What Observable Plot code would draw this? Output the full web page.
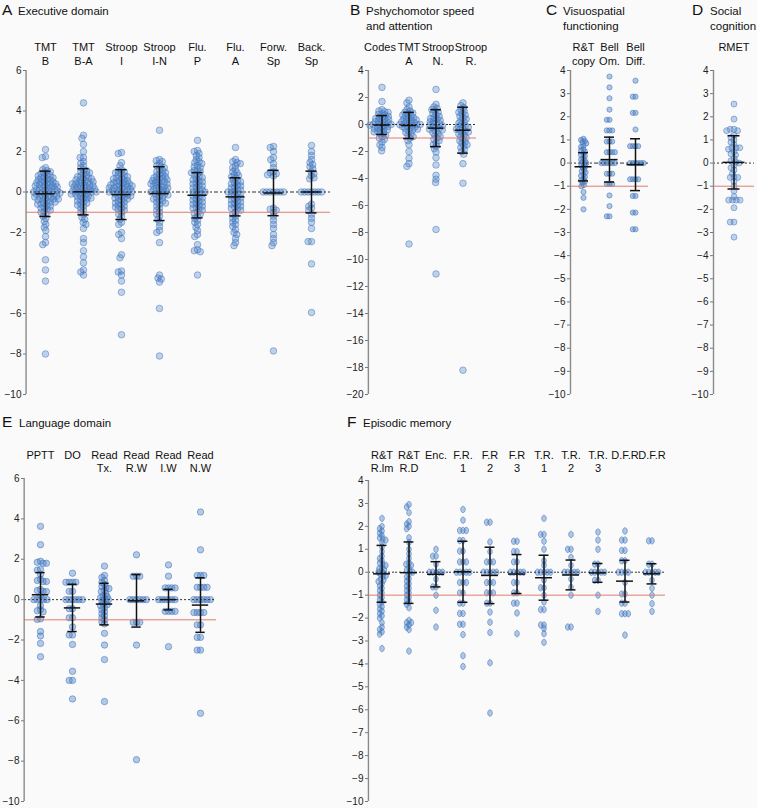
<!DOCTYPE html>
<html><head><meta charset="utf-8">
<script src="https://cdn.jsdelivr.net/npm/d3@7"></script>
<script src="https://cdn.jsdelivr.net/npm/@observablehq/plot@0.6"></script>
<style>
body{margin:0;background:#fafafa;font-family:"Liberation Sans",Arial,Helvetica,sans-serif;}
#root{position:relative;width:757px;height:808px;overflow:hidden;background:#fafafa;}
#root > svg{position:absolute;overflow:visible;}
</style></head>
<body><div id="root"></div>
<script>
// ---------- A: Executive domain ----------
const execCats = ["tmtB","tmtBA","stroopI","stroopIN","fluP","fluA","forwSp","backSp"];
const execLabels = ["TMT\nB","TMT\nB-A","Stroop\nI","Stroop\nI-N","Flu.\nP","Flu.\nA","Forw.\nSp","Back.\nSp"];
const execMeans = [-0.09, 0.01, -0.13, -0.08, -0.16, -0.24, -0.05, 0.0];
const execSDs = [1.12, 1.14, 1.23, 1.33, 1.12, 0.94, 1.12, 1.03];
const tmtB = [2.1,1.75,1.7,1.2,1.1,1.05,1.0,0.95,0.9,0.85,0.8,0.8,0.75,0.7,0.7,0.65,0.6,0.6,0.55,0.5,0.5,0.45,0.45,0.4,0.4,0.35,0.35,0.3,0.3,0.25,0.25,0.2,0.2,0.15,0.15,0.1,0.1,0.05,0.05,0,0,0,-0.05,-0.05,-0.1,-0.1,-0.15,-0.15,-0.2,-0.2,-0.25,-0.25,-0.3,-0.3,-0.35,-0.35,-0.4,-0.4,-0.45,-0.5,-0.5,-0.55,-0.6,-0.6,-0.65,-0.7,-0.75,-0.8,-0.85,-0.9,-0.95,-1.0,-1.1,-1.2,-1.3,-1.45,-1.6,-1.75,-1.9,-2.2,-2.5,-2.6,-3.35,-3.85,-4.4,-8.0];
const tmtBA = [4.4,2.8,2.65,2.35,2.0,1.7,1.7,1.5,1.4,1.3,1.2,1.1,1.05,1.0,0.95,0.9,0.85,0.8,0.75,0.7,0.7,0.65,0.6,0.6,0.55,0.5,0.5,0.45,0.45,0.4,0.4,0.35,0.35,0.3,0.3,0.25,0.25,0.2,0.2,0.15,0.15,0.1,0.1,0.05,0.05,0,0,0,-0.05,-0.05,-0.1,-0.1,-0.15,-0.2,-0.2,-0.25,-0.3,-0.3,-0.35,-0.4,-0.45,-0.5,-0.55,-0.6,-0.65,-0.7,-0.8,-0.9,-1.0,-1.1,-1.25,-1.35,-1.5,-1.6,-1.8,-2.3,-2.5,-2.9,-3.2,-3.5,-3.85,-3.95,-4.1];
const stroopI = [1.95,1.9,1.45,1.3,1.1,1.05,1.0,0.95,0.9,0.85,0.8,0.75,0.7,0.7,0.65,0.6,0.55,0.55,0.5,0.45,0.45,0.4,0.4,0.35,0.35,0.3,0.3,0.25,0.25,0.2,0.2,0.15,0.15,0.1,0.1,0.05,0.05,0,0,0,-0.05,-0.1,-0.1,-0.15,-0.2,-0.2,-0.25,-0.3,-0.3,-0.35,-0.4,-0.45,-0.5,-0.55,-0.6,-0.65,-0.7,-0.75,-0.8,-0.85,-0.9,-1.0,-1.1,-1.2,-1.35,-1.5,-1.6,-2.0,-2.1,-2.3,-3.1,-3.25,-3.9,-3.95,-4.1,-4.4,-4.95,-7.05];
const stroopIN = [3.05,1.6,1.55,1.5,1.4,1.3,1.25,1.2,1.1,1.05,1.0,0.95,0.9,0.85,0.8,0.75,0.7,0.7,0.65,0.6,0.6,0.55,0.5,0.5,0.45,0.4,0.4,0.35,0.3,0.3,0.25,0.2,0.2,0.15,0.1,0.1,0.05,0,0,-0.05,-0.1,-0.1,-0.15,-0.2,-0.25,-0.3,-0.35,-0.4,-0.45,-0.5,-0.55,-0.6,-0.7,-0.8,-0.9,-1.0,-1.1,-1.2,-1.35,-1.5,-1.7,-1.9,-2.0,-2.5,-4.1,-4.25,-4.3,-4.45,-5.75,-8.1];
const fluP = [2.55,2.05,2.0,1.9,1.8,1.7,1.6,1.5,1.45,1.4,1.3,1.25,1.2,1.1,1.05,1.0,0.95,0.9,0.8,0.75,0.7,0.65,0.6,0.55,0.5,0.45,0.4,0.35,0.3,0.25,0.2,0.15,0.1,0.05,0,0,-0.05,-0.1,-0.15,-0.2,-0.25,-0.3,-0.35,-0.4,-0.45,-0.5,-0.55,-0.6,-0.65,-0.7,-0.75,-0.8,-0.85,-0.9,-1.0,-1.05,-1.1,-1.2,-1.3,-1.4,-1.5,-1.6,-1.75,-1.9,-2.1,-2.2,-2.6,-2.85,-2.9,-2.95,-4.1];
const fluA = [2.2,1.6,1.5,1.45,1.4,1.3,1.2,1.1,1.0,0.95,0.85,0.8,0.75,0.7,0.6,0.55,0.5,0.45,0.4,0.35,0.3,0.25,0.2,0.15,0.1,0.05,0,0,-0.05,-0.1,-0.15,-0.2,-0.25,-0.3,-0.35,-0.4,-0.45,-0.5,-0.55,-0.6,-0.65,-0.7,-0.75,-0.8,-0.85,-0.9,-1.0,-1.1,-1.2,-1.3,-1.4,-1.5,-1.6,-1.7,-1.85,-2.0,-2.1,-2.3,-2.5,-2.65];
const forwSp = [2.25,2.2,2.0,1.7,1.6,1.4,1.2,1.0,0.95,0.9,0.85,0.8,0,0,0,0,0,0,0,-0.8,-0.85,-0.9,-1.0,-1.2,-1.4,-1.6,-1.8,-2.1,-2.3,-2.5,-2.65,-7.85];
const backSp = [2.3,2.0,1.8,1.6,1.45,1.35,1.25,1.15,1.0,0.9,0.8,0.7,0.65,0,0,0,0,0,0,0,-0.6,-0.7,-0.8,-0.9,-1.1,-1.3,-1.5,-1.8,-2.45,-2.45,-3.55,-5.95];
const execValues = [tmtB, tmtBA, stroopI, stroopIN, fluP, fluA, forwSp, backSp];
const execTicks = [6,4,2,0,-2,-4,-6,-8,-10];

// ---------- B: Pshychomotor speed and attention ----------
const psyCats = ["codes","tmtA","stroopN","stroopR"];
const psyLabels = ["Codes","TMT\nA","Stroop\nN.","Stroop\nR."];
const psyMeans = [-0.04, -0.07, -0.27, -0.42];
const psySDs = [0.70, 0.97, 1.37, 1.70];
const codes = [2.75,1.7,1.1,1.0,0.95,0.9,0.8,0.75,0.7,0.6,0.55,0.5,0.45,0.4,0.35,0.3,0.25,0.2,0.15,0.1,0.05,0,0,0,-0.05,-0.1,-0.15,-0.2,-0.25,-0.3,-0.35,-0.4,-0.45,-0.5,-0.55,-0.6,-0.7,-0.8,-0.9,-1.0,-1.1,-1.3,-1.5,-1.7,-1.95];
const tmtA = [1.8,1.6,1.3,1.1,1.0,0.9,0.85,0.8,0.7,0.65,0.6,0.5,0.45,0.4,0.35,0.3,0.25,0.2,0.15,0.1,0.05,0,0,0,-0.05,-0.1,-0.15,-0.2,-0.25,-0.3,-0.35,-0.4,-0.5,-0.6,-0.7,-0.8,-0.9,-1.0,-1.2,-1.5,-2.0,-2.5,-2.9,-3.1,-8.85];
const stroopN = [2.6,1.5,1.3,1.2,1.1,1.0,0.9,0.8,0.7,0.6,0.5,0.45,0.4,0.3,0.25,0.2,0.1,0.05,0,-0.05,-0.1,-0.2,-0.25,-0.3,-0.35,-0.4,-0.5,-0.6,-0.7,-0.8,-0.9,-1.0,-1.1,-1.2,-1.35,-1.5,-1.6,-1.8,-2.04,-2.46,-3.0,-3.76,-4.05,-4.3,-7.78,-11.07];
const stroopR = [1.6,1.4,1.25,1.1,1.0,0.9,0.8,0.7,0.6,0.5,0.4,0.3,0.2,0.1,0,-0.1,-0.15,-0.2,-0.3,-0.35,-0.4,-0.5,-0.55,-0.6,-0.7,-0.8,-0.9,-1.0,-1.1,-1.2,-1.3,-1.4,-1.5,-1.6,-1.7,-1.85,-2.0,-2.2,-2.9,-4.35,-18.2];
const psyValues = [codes, tmtA, stroopN, stroopR];
const psyTicks = [4,2,0,-2,-4,-6,-8,-10,-12,-14,-16,-18,-20];

// ---------- C: Visuospatial functioning ----------
const visCats = ["rtCopy","bellOm","bellDiff"];
const visLabels = ["R&T\ncopy","Bell\nOm.","Bell\nDiff."];
const visMeans = [-0.16, 0.15, -0.07];
const visSDs = [0.61, 0.97, 1.12];
const rtCopy = [1.05,1.0,0.95,0.9,0.85,0.75,0.7,0.6,0.55,0.5,0.4,0.35,0.3,0.2,0.15,0.1,0.05,0,-0.05,-0.1,-0.15,-0.2,-0.3,-0.35,-0.4,-0.5,-0.55,-0.6,-0.7,-0.75,-0.8,-0.85,-0.95,-1.0,-1.25,-1.5,-2.0];
const bellOm = [3.74,3.27,2.8,2.31,1.87,1.87,1.41,1.41,1.41,0.93,0.93,0.93,0.47,0.47,0.47,0.47,0,0,0,0,0,0,-0.46,-0.46,-0.46,-0.9,-0.9,-0.9,-1.4,-1.86,-2.3,-2.3];
const bellDiff = [3.56,2.87,2.87,2.17,2.17,1.45,0.73,0.73,0.73,0.73,0,0,0,0,0,0,-0.7,-0.7,-0.7,-0.7,-1.42,-1.42,-2.14,-2.14,-2.86,-2.86];
const visValues = [rtCopy, bellOm, bellDiff];
const smallTicks = [4,3,2,1,0,-1,-2,-3,-4,-5,-6,-7,-8,-9,-10];

// ---------- D: Social cognition ----------
const socCats = ["rmet"];
const socLabels = ["RMET"];
const socMeans = [0.03];
const socSDs = [1.15];
const rmet = [2.55,1.9,1.46,1.46,1.4,1.4,1.2,1.1,1.0,0.9,0.8,0.66,0.66,0.66,0.6,0.5,0.4,0.35,0.2,0.1,0.05,0,-0.1,-0.2,-0.3,-0.45,-0.6,-0.62,-0.62,-0.8,-1.0,-1.2,-1.45,-1.6,-1.6,-1.6,-1.6,-1.93,-2.55,-2.55,-3.2];
const socValues = [rmet];

// ---------- E: Language domain ----------
const langCats = ["pptt","do","readTx","readRW","readIW","readNW"];
const langLabels = ["PPTT","DO","Read\nTx.","Read\nR.W","Read\nI.W","Read\nN.W"];
const langMeans = [0.24, -0.41, -0.22, -0.06, 0.0, -0.27];
const langSDs = [1.10, 1.17, 1.03, 1.30, 0.51, 1.35];
const pptt = [3.63,2.72,1.9,1.85,1.8,1.8,1.5,1.46,1.25,1.0,0.95,0.9,0.9,0.5,0.45,0.4,0.4,0.2,0,0,0,0,0,-0.3,-0.5,-0.55,-0.6,-0.95,-0.98,-1.58,-1.8,-2.17,-2.83];
const dO = [1.31,0.86,0.86,0.86,0.86,0.41,0.41,0,0,0,0,0,0,-0.45,-0.45,-0.9,-0.9,-1.35,-1.75,-1.75,-2.22,-3.55,-4.0,-4.0,-4.92];
const readTx = [1.66,1.2,1.1,0.95,0.85,0.75,0.65,0.6,0.55,0.45,0.4,0.3,0.2,0.15,0.1,0.05,0,-0.05,-0.1,-0.2,-0.25,-0.3,-0.4,-0.5,-0.6,-0.7,-0.8,-0.9,-1.0,-1.1,-1.2,-1.67,-2.25,-2.97,-5.05];
const readRW = [2.22,1.16,1.16,1.16,0,0,0,0,0,0,-1.12,-1.12,-1.12,-2.25,-7.93];
const readIW = [1.72,1.16,0.58,0.58,0.58,0.58,0,0,0,0,0,0,-0.58,-0.58,-0.58,-0.58,-2.33];
const readNW = [4.34,2.47,1.2,1.2,1.2,0.61,0.61,0.61,0.61,0,0,0,0,0,0,-0.64,-0.64,-0.64,-0.64,-1.25,-1.25,-1.87,-1.87,-2.5,-2.5,-5.63];
const langValues = [pptt, dO, readTx, readRW, readIW, readNW];

// ---------- F: Episodic memory ----------
const epiCats = ["rtRIm","rtRD","enc","fr1","fr2","fr3","tr1","tr2","tr3","dfr1","dfr2"];
const epiLabels = ["R&T\nR.lm","R&T\nR.D","Enc.","F.R.\n1","F.R\n2","F.R\n3","T.R.\n1","T.R.\n2","T.R.\n3","D.F.R","D.F.R"];
const epiMeans = [-0.07, -0.02, -0.09, 0.02, -0.14, -0.08, -0.24, -0.12, -0.03, -0.39, -0.07];
const epiSDs = [1.24, 1.34, 0.55, 1.33, 1.23, 0.85, 0.98, 0.65, 0.41, 0.91, 0.44];
const rtRIm = [2.35,2.0,1.9,1.8,1.7,1.6,1.5,1.45,1.4,1.3,1.1,0.9,0.7,0.6,0.5,0.4,0.35,0.3,0.2,0.15,0.1,0.05,0,-0.05,-0.1,-0.15,-0.2,-0.3,-0.35,-0.4,-0.5,-0.6,-0.7,-0.8,-0.9,-1.0,-1.1,-1.2,-1.3,-1.4,-1.5,-1.6,-1.7,-1.8,-1.9,-2.0,-2.2,-2.4,-2.5,-2.6,-2.7,-3.33];
const rtRD = [2.95,2.85,2.6,2.2,2.1,2.0,1.9,1.5,1.3,1.0,0.8,0.6,0.4,0.35,0.3,0.2,0.1,0.05,0,-0.1,-0.2,-0.3,-0.4,-0.5,-0.6,-0.7,-0.8,-0.9,-1.0,-1.1,-1.2,-1.3,-1.4,-1.55,-2.1,-2.2,-2.2,-2.3,-2.4,-2.5,-3.44];
const enc = [1.0,0.7,0.7,0.35,0,0,0,0,0,-0.3,-0.64,-0.64,-1.0,-1.66,-2.39];
const fr1 = [2.74,2.27,1.82,1.82,1.82,1.38,1.38,0.92,0.92,0.45,0.45,0.45,0,0,0,0,0,-0.45,-0.45,-0.45,-0.9,-0.9,-1.35,-1.35,-1.8,-1.8,-2.27,-2.27,-2.72,-3.64,-4.11];
const fr2 = [2.18,2.18,1.32,0.9,0.45,0.45,0.45,0,0,0,0,0,-0.45,-0.45,-0.45,-0.9,-0.9,-0.9,-1.35,-1.35,-1.74,-2.18,-2.63,-3.95,-6.14];
const fr3 = [1.35,1.35,0.9,0.9,0.45,0.45,0,0,0,0,0,-0.45,-0.45,-0.9,-0.9,-1.35,-1.35,-1.78,-2.68];
const tr1 = [2.35,1.65,1.65,1.35,1.0,0.5,0.3,0,0,0,0,0,-0.35,-0.68,-0.68,-1.0,-1.3,-1.63,-1.63,-2.3,-2.3,-2.45,-2.68,-3.06];
const tr2 = [1.65,1.0,1.0,0.65,0.3,0,0,0,0,0,-0.3,-0.65,-1.0,-2.39,-2.39];
const tr3 = [1.75,1.4,1.0,0.35,0.35,0,0,0,0,0,-0.35,-0.35,-1.0,-1.71];
const dfr1 = [1.8,1.4,1.4,0.95,0.95,0.5,0.5,0,0,0,0,-0.45,-0.95,-0.95,-1.35,-1.35,-1.81,-1.81,-1.81,-2.74];
const dfr2 = [1.37,1.37,0.35,0.35,0,0,0,0,0,-0.35,-0.7,-1.0,-1.37,-1.71];
const epiValues = [rtRIm, rtRD, enc, fr1, fr2, fr3, tr1, tr2, tr3, dfr1, dfr2];

// ---------- drawing ----------
const FONT = '"Liberation Sans", Arial, Helvetica, sans-serif';
const fmt = d => d < 0 ? "\u2212" + Math.abs(d) : String(d);
const root = document.getElementById("root");

// vertical ellipse symbol (panel F dots are drawn slightly compressed horizontally)
const ellipseSymbol = {draw(ctx, size) {
  const ry = Math.sqrt(size / Math.PI), rx = ry * 0.72, k = 0.5523;
  ctx.moveTo(0, -ry);
  ctx.bezierCurveTo(k * rx, -ry, rx, -k * ry, rx, 0);
  ctx.bezierCurveTo(rx, k * ry, k * rx, ry, 0, ry);
  ctx.bezierCurveTo(-k * rx, ry, -rx, k * ry, -rx, 0);
  ctx.bezierCurveTo(-rx, -k * ry, -k * rx, -ry, 0, -ry);
  ctx.closePath();
}};

function panel(o) {
  const n = o.cats.length;
  const fw = (o.width - o.ml - o.mr) / n;
  const points = o.cats.flatMap((c, i) => o.values[i].map(v => ({cat: c, v})));
  const stats = o.cats.map((c, i) => ({cat: c, mean: o.means[i], sd: o.sds[i]}));
  const capInset = (fw - o.capW) / 2, meanInset = (fw - o.meanW) / 2;
  const bar = {stroke: "#111", strokeWidth: 1.5};
  const labelMarks = o.cats.map((c, i) => Plot.text([c], {
    fx: d => d, text: () => o.labels[i], frameAnchor: "top", lineAnchor: "top",
    dy: o.labelDy, dx: o.labelDx ? o.labelDx[i] : 0, fontSize: 11, lineHeight: 1.2, fill: "#111"
  }));
  const dotStyle = {fx: "cat", y: "v", r: o.r, fill: "#4a7fc4", fillOpacity: o.fo ?? 0.33,
    stroke: "#3f74bd", strokeOpacity: o.so ?? 0.62, strokeWidth: 0.8};
  if (o.symbol) dotStyle.symbol = o.symbol;
  const svg = Plot.plot({
    width: o.width, height: o.height,
    marginTop: o.mt, marginLeft: o.ml, marginRight: o.mr, marginBottom: o.mb,
    style: {background: "transparent", fontFamily: FONT, overflow: "visible"},
    fx: {domain: o.cats, padding: 0, axis: null},
    y: {domain: o.domain, axis: null},
    marks: [
      Plot.axisY({ticks: o.ticks, tickFormat: fmt, tickSize: 3, tickPadding: 2, fontSize: 10, stroke: "#777", fill: "#222", label: null}),
      Plot.dot(points, Plot.dodgeX({anchor: "middle", padding: o.padding}, dotStyle)),
      Plot.ruleY([-1], {stroke: "#e07b70", strokeWidth: 1}),
      Plot.ruleY([0], {stroke: "#333", strokeDasharray: "2,2", strokeWidth: 1}),
      Plot.ruleX({length: 1}, {x: null, y1: () => o.domain[0], y2: () => o.domain[1], dx: -fw / 2, stroke: "#8a8a8a", strokeWidth: 1.4, facetAnchor: "left"}),
      Plot.ruleX(stats, {x: null, fx: "cat", y1: d => d.mean - d.sd, y2: d => d.mean + d.sd, ...bar}),
      Plot.tickY(stats, {fx: "cat", y: d => d.mean + d.sd, insetLeft: capInset, insetRight: capInset, ...bar}),
      Plot.tickY(stats, {fx: "cat", y: d => d.mean - d.sd, insetLeft: capInset, insetRight: capInset, ...bar}),
      Plot.tickY(stats, {fx: "cat", y: "mean", insetLeft: meanInset, insetRight: meanInset, ...bar}),
      ...labelMarks
    ]
  });
  svg.style.left = o.left + "px";
  svg.style.top = o.top + "px";
  root.appendChild(svg);
}

panel({cats: execCats, labels: execLabels, values: execValues, means: execMeans, sds: execSDs,
  domain: [-10, 6], ticks: execTicks, left: 0, top: 30, width: 340, height: 374, mt: 40, ml: 22, mr: 7, mb: 10,
  r: 3.3, padding: -3.2, meanW: 20, capW: 12, labelDy: -28.5});
panel({cats: psyCats, labels: psyLabels, values: psyValues, means: psyMeans, sds: psySDs,
  domain: [-20, 4], ticks: psyTicks, left: 340, top: 30, width: 141, height: 374, mt: 40, ml: 27, mr: 5, mb: 10,
  r: 3.3, padding: -3.2, meanW: 16, capW: 11, labelDy: -28.5, labelDx: [-2, 0, 2, 8]});
panel({cats: visCats, labels: visLabels, values: visValues, means: visMeans, sds: visSDs,
  domain: [-10, 4], ticks: smallTicks, left: 540, top: 30, width: 113, height: 374, mt: 40, ml: 30, mr: 5, mb: 10,
  r: 2.6, padding: -2.5, meanW: 17, capW: 10, labelDy: -28.5, fo: 0.42, so: 0.7});
panel({cats: socCats, labels: socLabels, values: socValues, means: socMeans, sds: socSDs,
  domain: [-10, 4], ticks: smallTicks, left: 685, top: 30, width: 72, height: 374, mt: 40, ml: 28, mr: 3, mb: 10,
  r: 3, padding: -2.2, meanW: 22, capW: 12, labelDy: -28.5});
panel({cats: langCats, labels: langLabels, values: langValues, means: langMeans, sds: langSDs,
  domain: [-10, 6], ticks: execTicks, left: 0, top: 430, width: 225, height: 381, mt: 48, ml: 22, mr: 7, mb: 10,
  r: 3.2, padding: -3.1, meanW: 17, capW: 10, labelDy: -28.7, fo: 0.4, so: 0.68});
panel({cats: epiCats, labels: epiLabels, values: epiValues, means: epiMeans, sds: epiSDs,
  domain: [-10, 4], ticks: smallTicks, left: 330, top: 430, width: 340, height: 381, mt: 50, ml: 37, mr: 5, mb: 10,
  r: 3.2, padding: -3.1, meanW: 17, capW: 10, labelDy: -30.7, symbol: ellipseSymbol, fo: 0.42, so: 0.7});

// ---------- panel titles ----------
const titles = [
  {letter: "A", lx: 2, tx: 18, y: 15, lines: ["Executive domain"]},
  {letter: "B", lx: 350, tx: 366, y: 15, lines: ["Pshychomotor speed", "and attention"]},
  {letter: "C", lx: 546, tx: 563, y: 15, lines: ["Visuospatial", "functioning"]},
  {letter: "D", lx: 692, tx: 710, y: 15, lines: ["Social", "cognition"]},
  {letter: "E", lx: 2, tx: 19, y: 426.5, lines: ["Language domain"]},
  {letter: "F", lx: 347, tx: 363, y: 426.5, lines: ["Episodic memory"]}
];
const ns = "http://www.w3.org/2000/svg";
const tsvg = document.createElementNS(ns, "svg");
tsvg.setAttribute("width", 757); tsvg.setAttribute("height", 808);
tsvg.style.left = "0px"; tsvg.style.top = "0px"; tsvg.style.pointerEvents = "none";
tsvg.setAttribute("font-family", FONT);
for (const t of titles) {
  const L = document.createElementNS(ns, "text");
  L.setAttribute("x", t.lx); L.setAttribute("y", t.y); L.setAttribute("font-size", 15.5); L.setAttribute("fill", "#111");
  L.textContent = t.letter; tsvg.appendChild(L);
  t.lines.forEach((s, i) => {
    const T = document.createElementNS(ns, "text");
    T.setAttribute("x", t.tx); T.setAttribute("y", t.y + i * 14.6); T.setAttribute("font-size", 11.5); T.setAttribute("fill", "#111");
    T.textContent = s; tsvg.appendChild(T);
  });
}
root.appendChild(tsvg);
</script>
</body></html>
